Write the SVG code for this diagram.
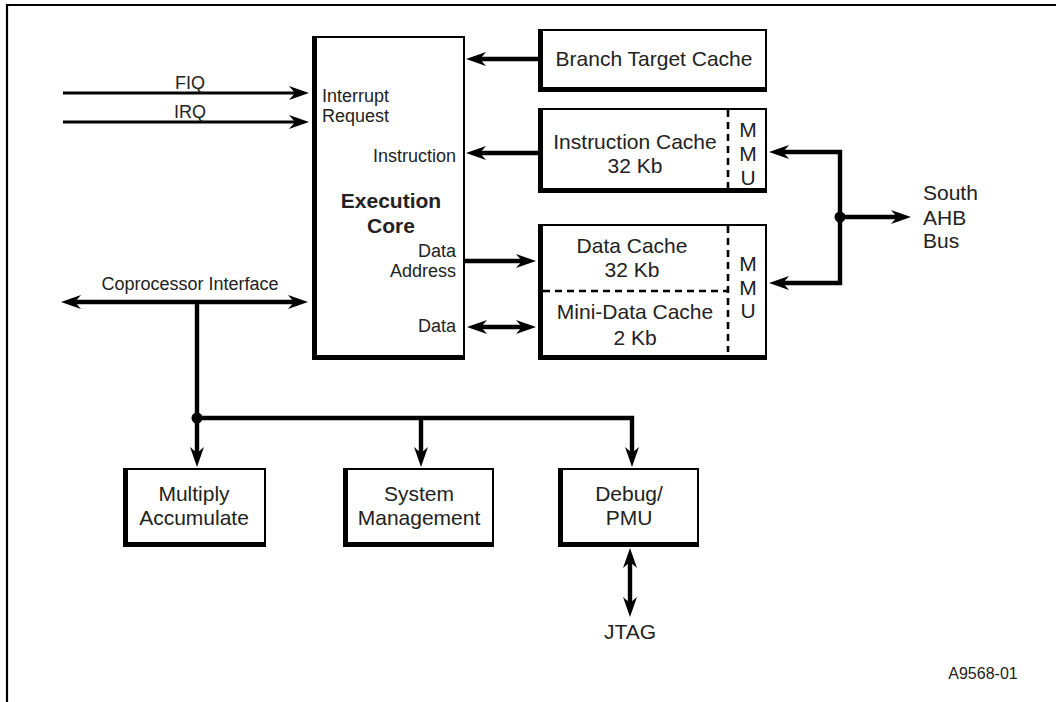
<svg xmlns="http://www.w3.org/2000/svg" width="1056" height="702" viewBox="0 0 1056 702">
<defs>
<marker id="ah" markerUnits="userSpaceOnUse" viewBox="-10 -8 24 16" markerWidth="24" markerHeight="16" refX="0" refY="0" orient="auto-start-reverse" overflow="visible">
<path d="M12,0 L-8,-7 L-2,0 L-8,7 Z" fill="#000"/>
</marker>
<style>
.frame{fill:none;stroke:#000;stroke-width:2.2}
.box{fill:#fff;stroke:#000;stroke-width:2}
.sh{fill:none;stroke:#000;stroke-width:5}
.dash{fill:none;stroke:#000;stroke-width:2.6;stroke-dasharray:7 5}
.c{fill:none;stroke:#000;stroke-width:4.4;stroke-linejoin:miter}
.thin{fill:none;stroke:#000;stroke-width:3}
.ae{marker-end:url(#ah)}
.as{marker-start:url(#ah)}
text{font-family:"Liberation Sans",Arial,sans-serif;fill:#222}
.s{font-size:18px}
.l{font-size:21px}
.b{font-size:21px;font-weight:bold}
.m{text-anchor:middle}
.e{text-anchor:end}
</style>
</defs>
<rect width="1056" height="702" fill="#fff"/>
<path class="frame" d="M7,702 V5 H1056"/>

<g id="connectors">
<line class="thin ae" x1="63" y1="93" x2="297" y2="93"/>
<line class="thin ae" x1="63" y1="122" x2="297" y2="122"/>
<line class="c ae" x1="538" y1="59" x2="478" y2="59"/>
<line class="c ae" x1="538" y1="153" x2="478" y2="153"/>
<line class="c ae" x1="465" y1="261" x2="524" y2="261"/>
<line class="c as ae" x1="479" y1="327" x2="524" y2="327"/>
<path class="c as ae" d="M781,152 H840 V283 H781"/>
<line class="c ae" x1="840" y1="217" x2="899" y2="217"/>
<circle cx="840" cy="217" r="5.5" fill="#000"/>
<line class="c as ae" x1="73" y1="302" x2="296" y2="302"/>
<line class="c ae" x1="197" y1="302" x2="197" y2="455"/>
<path class="c ae" d="M197,418 H632 V455"/>
<line class="c ae" x1="421" y1="418" x2="421" y2="455"/>
<circle cx="197" cy="418" r="5.5" fill="#000"/>
<line class="c as ae" x1="630" y1="560" x2="630" y2="605"/>
</g>

<g id="execution-core">
<rect class="box" x="313" y="37" width="151" height="322"/>
<path class="sh" d="M314.5,36 V357.5 H465"/>
<text class="s" x="322" y="102">Interrupt</text>
<text class="s" x="322" y="122">Request</text>
<text class="s e" x="456" y="162">Instruction</text>
<text class="b m" x="391" y="208">Execution</text>
<text class="b m" x="391" y="233">Core</text>
<text class="s e" x="456" y="257">Data</text>
<text class="s e" x="456" y="277">Address</text>
<text class="s e" x="456" y="332">Data</text>
</g>

<g id="branch-target-cache">
<rect class="box" x="539" y="30" width="227" height="61"/>
<path class="sh" d="M540.5,29 V89.5 H767"/>
<text class="l m" x="654" y="66">Branch Target Cache</text>
</g>

<g id="instruction-cache">
<rect class="box" x="539" y="109" width="227" height="83"/>
<path class="sh" d="M540.5,108 V190.5 H767"/>
<line class="dash" x1="728" y1="110" x2="728" y2="190"/>
<text class="l m" x="635" y="149">Instruction Cache</text>
<text class="l m" x="635" y="173">32 Kb</text>
<text class="l m" x="748" y="137">M</text>
<text class="l m" x="748" y="161">M</text>
<text class="l m" x="748" y="185">U</text>
</g>

<g id="data-cache">
<rect class="box" x="539" y="225" width="227" height="134"/>
<path class="sh" d="M540.5,224 V357.5 H767"/>
<line class="dash" x1="728" y1="226" x2="728" y2="352"/>
<line class="dash" x1="543" y1="291" x2="728" y2="291"/>
<text class="l m" x="632" y="253">Data Cache</text>
<text class="l m" x="632" y="277">32 Kb</text>
<text class="l m" x="635" y="319">Mini-Data Cache</text>
<text class="l m" x="635" y="345">2 Kb</text>
<text class="l m" x="748" y="271">M</text>
<text class="l m" x="748" y="295">M</text>
<text class="l m" x="748" y="318">U</text>
</g>

<g id="south-ahb-bus">
<text class="l" x="923" y="200">South</text>
<text class="l" x="923" y="225">AHB</text>
<text class="l" x="923" y="248">Bus</text>
</g>

<g id="coprocessor-interface">
<text class="s m" x="190" y="290">Coprocessor Interface</text>
</g>

<g id="fiq-irq">
<text class="s m" x="190" y="89">FIQ</text>
<text class="s m" x="190" y="118">IRQ</text>
</g>

<g id="multiply-accumulate">
<rect class="box" x="124" y="469" width="141" height="77"/>
<path class="sh" d="M125.5,468 V544.5 H266"/>
<text class="l m" x="194" y="501">Multiply</text>
<text class="l m" x="194" y="525">Accumulate</text>
</g>

<g id="system-management">
<rect class="box" x="344" y="469" width="149" height="77"/>
<path class="sh" d="M345.5,468 V544.5 H494"/>
<text class="l m" x="419" y="501">System</text>
<text class="l m" x="419" y="525">Management</text>
</g>

<g id="debug-pmu">
<rect class="box" x="559" y="469" width="139" height="77"/>
<path class="sh" d="M560.5,468 V544.5 H699"/>
<text class="l m" x="629" y="501">Debug/</text>
<text class="l m" x="629" y="525">PMU</text>
</g>

<g id="jtag">
<text class="l m" x="630" y="639">JTAG</text>
</g>

<g id="figure-id">
<text x="983" y="679" font-size="16" text-anchor="middle">A9568-01</text>
</g>
</svg>
